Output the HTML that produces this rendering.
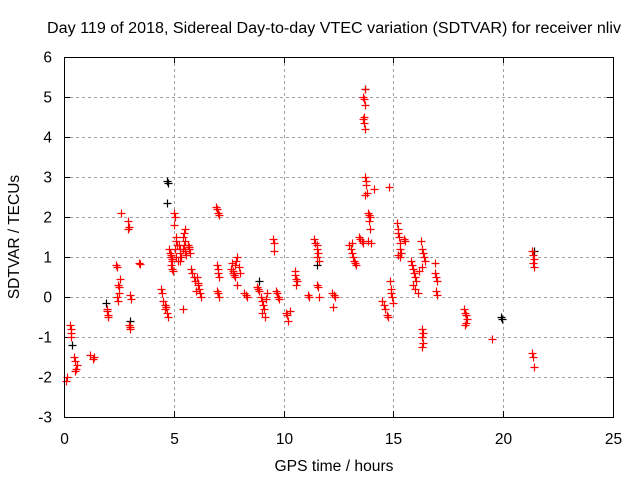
<!DOCTYPE html>
<html><head><meta charset="utf-8"><style>
html,body{margin:0;padding:0;background:#fff}
svg{display:block;font-family:"Liberation Sans",sans-serif}
</style></head><body>
<svg id="chart" width="640" height="480" viewBox="0 0 640 480">
<rect width="640" height="480" fill="#fff"/>
<text x="334" y="33" font-size="15.5" text-anchor="middle" textLength="574" lengthAdjust="spacingAndGlyphs">Day 119 of 2018, Sidereal Day-to-day VTEC variation (SDTVAR) for receiver nliv</text>
<g id="grid"></g>
<g id="ticks"></g>
<g id="pts"></g>
<rect x="64.5" y="57.5" width="549" height="360" fill="none" stroke="#000" stroke-width="1"/>
<text x="334" y="471" font-size="15.5" text-anchor="middle" textLength="119" lengthAdjust="spacingAndGlyphs">GPS time / hours</text>
<text transform="translate(19,237) rotate(-90)" font-size="15.5" text-anchor="middle">SDTVAR / TECUs</text>
</svg>
<script>
const xTicks=[0,5,10,15,20,25];
const yTicks=[-3,-2,-1,0,1,2,3,4,5,6];
const blackX=[4.7,4.72,4.68,8.9,11.5,19.9,19.95,13.7,21.4,1.9,3.0,0.35];
const blackY=[2.9,2.85,2.35,0.4,0.8,-0.5,-0.55,5.2,1.15,-0.15,-0.6,-1.2];
const redX=[0.1,0.12,0.3,0.3,0.32,0.28,0.45,0.5,0.55,0.48,0.6,1.2,1.3,1.35,
1.95,1.95,2.0,2.0,2.35,2.4,2.45,2.5,2.5,2.55,2.4,2.45,2.6,
2.9,2.95,2.9,3.0,3.05,2.95,3.0,3.02,3.4,3.45,
4.4,4.45,4.5,4.6,4.65,4.7,4.75,4.6,
4.8,4.82,4.85,4.9,4.88,4.92,4.95,4.85,4.9,
5.0,5.05,5.0,5.1,5.1,5.15,5.05,5.1,5.2,
5.25,5.3,5.3,5.35,5.4,5.45,5.5,5.5,5.45,5.4,5.5,5.55,5.3,5.4,
5.65,5.7,5.75,5.8,5.85,5.9,5.95,6.0,5.7,
6.05,6.1,6.15,6.2,6.25,6.1,
6.9,6.95,7.0,7.05,6.95,7.0,7.0,7.05,6.95,7.0,7.05,
7.6,7.7,7.75,7.8,7.85,7.9,7.7,7.8,7.9,7.65,7.95,8.0,
8.2,8.3,8.35,
8.8,8.85,8.9,8.95,9.0,9.05,9.1,9.0,9.15,9.2,9.25,
9.5,9.55,9.55,9.65,9.7,9.75,9.8,
10.1,10.15,10.2,10.3,
10.5,10.5,10.55,10.6,10.55,
11.1,11.15,
11.4,11.45,11.5,11.5,11.55,11.5,11.6,11.5,11.55,11.6,
12.2,12.3,12.35,12.25,
13.0,13.05,13.1,13.15,13.2,13.25,13.3,13.1,
13.45,13.5,13.55,13.6,
13.6,13.65,13.7,13.65,13.6,13.65,13.7,13.7,
13.7,13.75,13.75,13.8,13.7,
13.85,13.9,13.95,13.9,13.95,13.85,14.0,14.1,
14.5,14.55,14.6,14.7,14.75,14.85,14.9,14.9,14.95,15.0,14.8,
15.15,15.2,15.2,15.25,15.3,15.3,15.35,15.2,15.3,15.5,15.55,
15.8,15.85,15.9,15.95,16.0,16.05,15.9,16.0,16.1,16.15,
16.25,16.3,16.35,16.4,16.45,16.3,16.3,16.35,16.3,16.35,16.3,
16.9,16.95,17.0,16.95,17.0,16.9,
18.2,18.25,18.3,18.35,18.3,18.25,
19.5,
21.3,21.35,21.4,21.35,21.4,21.3,21.35,21.4];
const redY=[-2.1,-2.0,-0.8,-0.9,-1.0,-0.7,-1.5,-1.6,-1.8,-1.85,-1.7,-1.45,-1.55,-1.5,
-0.3,-0.35,-0.45,-0.5,0.8,0.75,0.3,0.25,0.1,0.45,0.0,-0.1,2.1,
1.9,1.75,1.7,0.05,-0.05,-0.7,-0.8,-0.75,0.85,0.82,
0.2,0.1,-0.1,-0.2,-0.25,-0.4,-0.5,-0.3,
1.2,1.1,1.0,0.9,0.8,0.7,0.65,1.05,0.95,
2.1,2.0,1.8,1.5,1.4,1.3,1.2,1.0,0.9,
1.3,1.2,1.1,1.0,1.5,1.6,1.7,1.4,1.3,1.2,1.15,1.05,0.9,-0.3,
1.3,1.2,1.1,0.7,0.6,0.5,0.4,0.15,1.25,
0.5,0.3,0.2,0.1,0.0,0.35,
2.25,2.2,2.1,2.05,0.8,0.7,0.6,0.5,0.15,0.1,0.0,
0.7,0.6,0.55,0.8,0.9,1.0,0.65,0.5,0.3,0.85,0.75,0.6,
0.1,0.05,0.0,
0.25,0.2,0.15,0.0,-0.1,-0.2,-0.3,-0.4,-0.5,-0.05,0.1,
1.45,1.35,1.15,0.15,0.1,0.0,-0.05,
-0.4,-0.45,-0.6,-0.35,
0.65,0.55,0.45,0.4,0.3,
0.05,0.0,
1.45,1.35,1.3,1.2,1.1,1.0,0.9,0.3,0.25,0.0,
0.1,0.05,0.0,-0.25,
1.3,1.2,1.1,1.0,0.9,0.85,0.8,1.35,
1.5,1.45,1.4,1.35,
5.0,4.95,4.8,4.5,4.45,4.35,4.2,5.2,
3.0,2.9,2.8,2.6,2.55,
2.1,2.05,2.0,1.9,1.7,1.4,1.35,2.7,
-0.1,-0.2,-0.3,-0.45,-0.5,0.4,0.2,0.1,0.0,-0.15,2.75,
1.85,1.7,1.6,1.5,1.35,1.2,1.1,1.05,1.0,1.45,1.4,
0.9,0.8,0.7,0.6,0.5,0.4,0.3,0.2,0.1,0.65,
1.4,1.2,1.1,1.0,0.9,0.75,-0.8,-0.9,-1.0,-1.15,-1.25,
0.6,0.5,0.4,0.15,0.05,0.85,
-0.3,-0.4,-0.45,-0.55,-0.65,-0.7,
-1.05,
1.15,1.05,0.95,0.85,0.75,-1.4,-1.5,-1.75];
const L=64,R=613,T=57,B=417;
function sx(v){return L+(v-0)/(25-0)*(R-L);}
function sy(v){return B-(v+3)/9*(B-T);}
const NS="http://www.w3.org/2000/svg";
function mk(tag,attrs,parent){const e=document.createElementNS(NS,tag);for(const k in attrs)e.setAttribute(k,attrs[k]);parent.appendChild(e);return e;}
const grid=document.getElementById('grid'),ticks=document.getElementById('ticks'),pts=document.getElementById('pts');
xTicks.forEach(t=>{const x=Math.round(sx(t))+0.5;
 if(t>0&&t<25){const g=mk('line',{x1:x,x2:x,y1:T,y2:B,stroke:'#a0a0a0','stroke-dasharray':'3,3'},grid);
 
 }
 mk('line',{x1:x,x2:x,y1:B,y2:B-6,stroke:'#000'},ticks);
 mk('line',{x1:x,x2:x,y1:T,y2:T+6,stroke:'#000'},ticks);
 const lb=mk('text',{x:x,y:B+27,'font-size':15.5,'text-anchor':'middle'},ticks);lb.textContent=t;
 
 });
yTicks.forEach(t=>{const y=Math.round(sy(t))+0.5;
 if(t>-3&&t<6){const g=mk('line',{x1:L,x2:R,y1:y,y2:y,stroke:'#a0a0a0','stroke-dasharray':'3,3'},grid);
 
 }
 mk('line',{x1:L,x2:L+6,y1:y,y2:y,stroke:'#000'},ticks);
 mk('line',{x1:R,x2:R-6,y1:y,y2:y,stroke:'#000'},ticks);
 const lb=mk('text',{x:L-12,y:y+5,'font-size':15.5,'text-anchor':'end'},ticks);lb.textContent=t;
 
 });
function plus(xs,ys,color,name){for(let i=0;i<xs.length;i++){const x=Math.round(sx(xs[i]))+0.5,y=Math.round(sy(ys[i]))+0.5;
 const p=mk('path',{d:`M${x-4} ${y}H${x+4}M${x} ${y-4}V${y+4}`,stroke:color,'stroke-width':1.2,fill:'none'},pts);
 
 }}
plus(blackX,blackY,'#000000','black-point');
plus(redX,redY,'#ff0000','red-point');
</script>
</body></html>
